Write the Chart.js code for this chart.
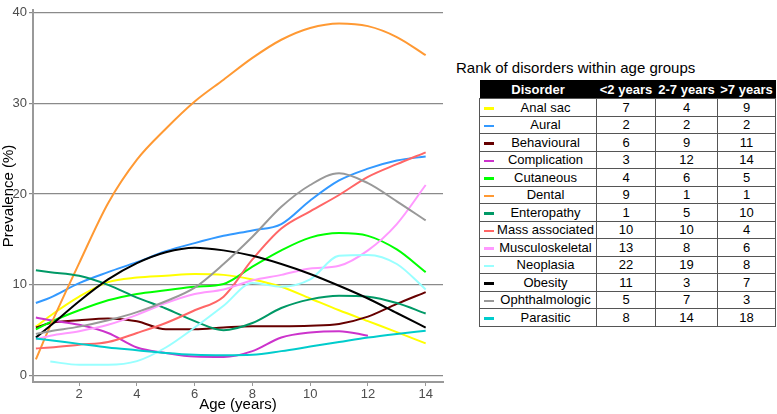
<!DOCTYPE html>
<html>
<head>
<meta charset="utf-8">
<script src="https://cdn.jsdelivr.net/npm/chart.js@4/dist/chart.umd.min.js"></script>
<style>
  body { margin: 0; background: #fff; font-family: "Liberation Sans", Arial, sans-serif; }
  #wrap { position: absolute; left: 0; top: 0; width: 450px; height: 414px; }
  #title { position: absolute; left: 456px; top: 59px; font-size: 15px; color: #000; white-space: nowrap; }
  table { position: absolute; left: 479px; top: 80px; border-collapse: collapse; font-size: 13px; }
  th { background: #000; color: #fff; font-weight: bold; height: 18px; padding: 0; text-align: center; }
  td { border: 1px solid #555; height: 16.5px; padding: 0; text-align: center; }
  td.name { position: relative; padding-left: 15px; }
  td.name span.sw { position: absolute; left: 4px; top: 8px; width: 10px; height: 2.5px; }
</style>
</head>
<body>
<div id="wrap"><canvas id="chart"></canvas></div>
<div id="title">Rank of disorders within age groups</div>
<table id="tbl">
  <colgroup><col style="width:117px"><col style="width:59px"><col style="width:62px"><col style="width:58px"></colgroup>
  <thead><tr><th>Disorder</th><th>&lt;2 years</th><th>2-7 years</th><th>&gt;7 years</th></tr></thead>
  <tbody></tbody>
</table>
<script>
const ages = [0.5, 1, 2, 3, 4, 5, 6, 7, 8, 9, 10, 11, 12, 13, 14]

const analSac = [5.4, 6.6, 8.7, 10.3, 10.8, 11.0, 11.2, 11.1, 10.6, 9.8, 8.5, 7.2, 6.0, 4.8, 3.55]
const aural = [8.0, 8.6, 10.2, 11.4, 12.5, 13.7, 14.6, 15.4, 16.0, 16.7, 19.3, 21.5, 22.8, 23.7, 24.15]
const behavioural = [5.3, 5.8, 6.1, 6.3, 6.0, 5.1, 5.1, 5.3, 5.45, 5.45, 5.5, 5.7, 6.5, 7.9, 9.2]
const complication = [6.4, 6.1, 5.6, 4.7, 3.1, 2.5, 2.1, 2.05, 2.7, 4.2, 4.75, 4.9, 4.4, null, null]
const cutaneous = [5.1, 5.9, 7.2, 8.3, 9.0, 9.4, 9.8, 10.1, 12.0, 13.8, 15.2, 15.7, 15.4, 13.9, 11.4]
const dental = [1.8, 5.5, 12.4, 19.0, 23.8, 27.2, 30.2, 32.6, 35.0, 37.0, 38.3, 38.8, 38.5, 37.3, 35.3]
const enteropathy = [11.6, 11.4, 11.0, 10.0, 8.6, 7.4, 6.0, 5.0, 5.8, 7.45, 8.4, 8.8, 8.7, 8.0, 6.85]
const massAssociated = [3.0, 3.1, 3.4, 3.7, 4.7, 5.8, 7.2, 8.7, 12.8, 16.2, 18.1, 19.9, 21.9, 23.3, 24.6]
const musculoskeletal = [4.0, 4.4, 4.9, 5.6, 6.7, 8.0, 9.0, 9.5, 10.5, 11.1, 11.8, 12.1, 13.8, 16.7, 21.0]
const neoplasia = [null, 1.55, 1.2, 1.2, 1.6, 3.1, 5.3, 7.7, 10.2, 9.8, 10.6, 13.2, 13.3, 12.3, 9.5]
const obesity = [4.2, 5.5, 8.2, 10.6, 12.4, 13.6, 14.1, 13.8, 13.2, 12.3, 11.2, 9.9, 8.5, 6.9, 5.3]
const ophthalmologic = [4.6, 4.9, 5.4, 6.1, 7.0, 8.2, 9.7, 12.3, 15.3, 18.6, 21.0, 22.3, 21.2, 19.2, 17.1]
const parasitic = [4.1, 3.9, 3.5, 3.1, 2.8, 2.5, 2.3, 2.25, 2.3, 2.7, 3.2, 3.7, 4.2, 4.6, 4.95]

// table
const disorders = ["Anal sac", "Aural", "Behavioural", "Complication", "Cutaneous", "Dental", "Enteropathy",
  "Mass associated", "Musculoskeletal", "Neoplasia", "Obesity", "Ophthalmologic", "Parasitic"]
const rankUnder2 = [7, 2, 6, 3, 4, 9, 1, 10, 13, 22, 11, 5, 8]
const rank2to7 = [4, 2, 9, 12, 6, 1, 5, 10, 8, 19, 3, 7, 14]
const rankOver7 = [9, 2, 11, 14, 5, 1, 10, 4, 6, 8, 7, 3, 18]

const colors = ["#FFFF00", "#3399FF", "#660000", "#CC33CC", "#00FF00", "#FF9933", "#009966",
  "#FF6666", "#FF99FF", "#99FFFF", "#000000", "#999999", "#00CCCC"]
const series = [analSac, aural, behavioural, complication, cutaneous, dental, enteropathy,
  massAssociated, musculoskeletal, neoplasia, obesity, ophthalmologic, parasitic]

const FONT = "'Liberation Sans', Arial, sans-serif"

const datasets = series.map((vals, i) => ({
  label: disorders[i],
  data: ages.map((a, j) => ({ x: a, y: vals[j] })).filter(p => p.y !== null),
  borderColor: colors[i],
  borderWidth: 2,
  pointRadius: 0,
  cubicInterpolationMode: "monotone",
  fill: false
}))
// later disorders were painted on top in the original
datasets.reverse()

new Chart(document.getElementById("chart"), {
  type: "line",
  data: { datasets },
  options: {
    responsive: true,
    maintainAspectRatio: false,
    animation: false,
    layout: { padding: { top: 3, right: 7, left: 0, bottom: 0 } },
    plugins: { legend: { display: false }, tooltip: { enabled: false } },
    scales: {
      x: {
        type: "linear",
        min: 0.4,
        max: 14.6,
        afterFit: s => { s.height = 32 },
        ticks: { stepSize: 2, includeBounds: false, color: "#4d4d4d", font: { size: 13, family: FONT }, padding: 1, maxRotation: 0 },
        grid: { drawOnChartArea: false, color: "#999", tickLength: 4 },
        border: { color: "#999", width: 2 },
        title: { display: true, text: "Age (years)", color: "#000", font: { size: 15, family: FONT }, padding: { top: 0, bottom: 0 } }
      },
      y: {
        type: "linear",
        min: -0.7,
        max: 40.3,
        afterFit: s => { s.width = 33 },
        ticks: { stepSize: 10, includeBounds: false, color: "#4d4d4d", font: { size: 13, family: FONT }, padding: 2 },
        grid: { color: "#8a8a8a", lineWidth: 1.2, tickLength: 4 },
        border: { color: "#999", width: 2 },
        title: { display: true, text: "Prevalence (%)", color: "#000", font: { size: 15, family: FONT }, padding: { top: 0, bottom: 0 } }
      }
    }
  }
})

const tbody = document.querySelector("#tbl tbody")
disorders.forEach((d, i) => {
  const tr = document.createElement("tr")
  tr.innerHTML = `<td class="name"><span class="sw" style="background:${colors[i]}"></span>${d}</td>` +
    `<td>${rankUnder2[i]}</td><td>${rank2to7[i]}</td><td>${rankOver7[i]}</td>`
  tbody.appendChild(tr)
})
</script>
</body>
</html>
